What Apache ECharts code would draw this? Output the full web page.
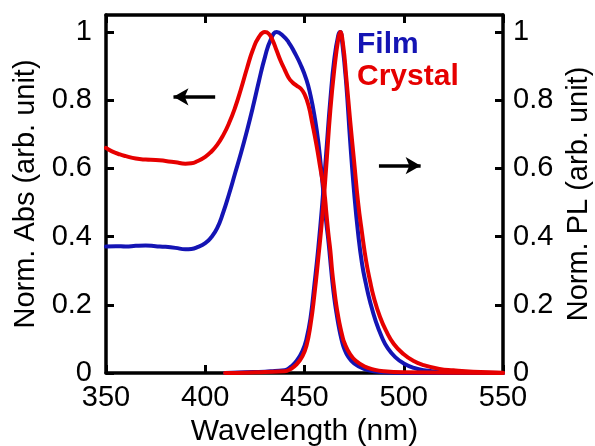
<!DOCTYPE html>
<html>
<head>
<meta charset="utf-8">
<script src="https://cdn.jsdelivr.net/npm/echarts@6/dist/echarts.min.js"></script>
<style>
html,body{margin:0;padding:0;background:#fff;}
#chart{width:595px;height:446px;}
</style>
</head>
<body>
<div id="chart"></div>
<script>
// Wavelength (nm), value pairs
const filmAbsWl  = [350,355,360,365,370,375,380,385,390,393,396,400,403,406,409,412,415,418,421,424,427,430,433,436,439,442,445,448,451,453,455,457,459,460,461,462,463,464,465,466,467,468,469,470,472,475,480,485,490,500,550];
const filmAbs    = [0.371,0.372,0.371,0.373,0.374,0.372,0.370,0.367,0.363,0.364,0.369,0.381,0.398,0.425,0.470,0.525,0.585,0.645,0.710,0.780,0.855,0.925,0.978,1.000,0.990,0.970,0.940,0.905,0.860,0.815,0.755,0.675,0.560,0.500,0.440,0.390,0.330,0.270,0.220,0.180,0.145,0.115,0.090,0.072,0.048,0.028,0.012,0.005,0.002,0.000,0.000];

const crystalAbsWl = [350,353,357,360,365,370,375,380,385,390,393,396,400,403,406,409,412,415,418,421,424,427,430,432,434,436,438,440,442,444,446,448,450,452,454,456,458,460,461,462,463,464,465,466,467,468,469,470,473,476,480,485,490,500,550];
const crystalAbs   = [0.660,0.650,0.641,0.636,0.629,0.626,0.625,0.622,0.618,0.614,0.615,0.621,0.634,0.649,0.669,0.697,0.733,0.778,0.833,0.893,0.948,0.985,1.000,0.995,0.975,0.945,0.915,0.890,0.866,0.852,0.843,0.835,0.818,0.785,0.730,0.670,0.600,0.530,0.470,0.410,0.360,0.295,0.245,0.200,0.165,0.135,0.110,0.090,0.055,0.035,0.020,0.010,0.005,0.002,0.000];

const filmPLWl = [410,420,430,435,440,443,446,449,451,453,455,457,459,461,463,465,467,468,469,471,473,475,477,479,481,483,486,489,492,496,500,505,510,520,535,550];
const filmPL   = [0.000,0.002,0.004,0.006,0.008,0.018,0.035,0.065,0.100,0.160,0.260,0.370,0.500,0.650,0.800,0.920,0.990,1.000,0.970,0.850,0.680,0.530,0.410,0.320,0.260,0.210,0.150,0.105,0.072,0.045,0.028,0.015,0.008,0.003,0.001,0.000];

const crystalPLWl = [410,420,430,440,443,446,449,451,453,455,457,459,461,463,465,467,468,469.5,471,473,475,477,479,481,483,485,488,491,495,500,505,510,518,525,535,550];
const crystalPL   = [0.000,0.001,0.003,0.005,0.012,0.025,0.050,0.080,0.140,0.230,0.340,0.460,0.610,0.770,0.890,0.980,1.000,0.960,0.870,0.740,0.620,0.500,0.410,0.330,0.270,0.220,0.165,0.125,0.085,0.055,0.035,0.023,0.012,0.008,0.004,0.001];

const xTicks = [350,400,450,500,550];
const yTicks = [0,0.2,0.4,0.6,0.8,1];

// annotation arrows (data coordinates)
const absArrow = [[405,0.81],[384,0.81]];
const plArrow  = [[487.5,0.608],[508.5,0.608]];

const BLUE = '#1414b4';
const RED  = '#e60000';
const FONT = '"Liberation Sans", Arial, sans-serif';

function zip(a,b){ return a.map((v,i)=>[v,b[i]]); }

const chart = echarts.init(document.getElementById('chart'), null, {renderer:'canvas'});

const axisLineStyle = {color:'#000', width:3.5};
const yAxisCommon = {
  type:'value', min:0, max:1.05,
  axisLine:{show:true, onZero:false, lineStyle:axisLineStyle},
  axisTick:{show:true, inside:true, length:8, lineStyle:{color:'#000', width:3}, customValues:yTicks},
  splitLine:{show:false},
  nameLocation:'middle',
  nameTextStyle:{fontFamily:FONT, fontSize:29, color:'#000'}
};

const option = {
  backgroundColor:'#fff',
  animation:false,
  grid:{left:106, right:92, top:15, bottom:73, containLabel:false, outerBoundsMode:'none'},
  legend:{
    orient:'vertical', left:347, top:25, itemGap:2,
    itemWidth:0, itemHeight:0, icon:'rect',
    selectedMode:false,
    data:[
      {name:'Film', textStyle:{color:BLUE}},
      {name:'Crystal', textStyle:{color:RED}}
    ],
    textStyle:{fontFamily:FONT, fontSize:30, fontWeight:'bold'}
  },
  xAxis:[
    {
      type:'value', min:350, max:550, interval:50, position:'bottom',
      name:'Wavelength (nm)', nameLocation:'middle', nameGap:40,
      nameTextStyle:{fontFamily:FONT, fontSize:30, color:'#000'},
      axisLine:{show:true, onZero:false, lineStyle:axisLineStyle},
      axisTick:{show:true, inside:true, length:8, lineStyle:{color:'#000', width:3}, customValues:xTicks},
      axisLabel:{show:true, margin:10, fontFamily:FONT, fontSize:29, color:'#000', showMinLabel:true, showMaxLabel:true, customValues:xTicks},
      splitLine:{show:false}
    },
    {
      type:'value', min:350, max:550, interval:50, position:'top',
      axisLine:{show:true, onZero:false, lineStyle:axisLineStyle},
      axisTick:{show:true, inside:true, length:8, lineStyle:{color:'#000', width:3}, customValues:xTicks},
      axisLabel:{show:false},
      splitLine:{show:false}
    }
  ],
  yAxis:[
    Object.assign({}, yAxisCommon, {
      position:'left', name:'Norm. Abs (arb. unit)', nameGap:63,
      axisLabel:{show:true, margin:14, fontFamily:FONT, fontSize:29, color:'#000', customValues:yTicks,
        formatter:v=>String(+(+v).toFixed(1))}
    }),
    Object.assign({}, yAxisCommon, {
      position:'right', name:'Norm. PL (arb. unit)', nameGap:58, nameRotate:90,
      axisLabel:{show:true, margin:10, fontFamily:FONT, fontSize:29, color:'#000', customValues:yTicks,
        formatter:v=>String(+(+v).toFixed(1))}
    })
  ],
  series:[
    {
      name:'Film', type:'line', xAxisIndex:0, yAxisIndex:0, data:zip(filmAbsWl, filmAbs),
      showSymbol:false, smooth:0.5, lineStyle:{color:BLUE, width:4, cap:'round', join:'round'}, itemStyle:{color:BLUE}, z:2
    },
    {
      name:'Film', type:'line', xAxisIndex:0, yAxisIndex:1, data:zip(filmPLWl, filmPL),
      showSymbol:false, smooth:0.5, lineStyle:{color:BLUE, width:4, cap:'round', join:'round'}, itemStyle:{color:BLUE}, z:2
    },
    {
      name:'Crystal', type:'line', xAxisIndex:0, yAxisIndex:0, data:zip(crystalAbsWl, crystalAbs),
      showSymbol:false, smooth:0.5, lineStyle:{color:RED, width:4, cap:'round', join:'round'}, itemStyle:{color:RED}, z:3,
      markLine:{
        silent:true, symbol:['none','arrow'], symbolSize:[13,15],
        label:{show:false},
        lineStyle:{color:'#000', width:3.5, type:'solid'},
        data:[
          [{coord:absArrow[0]},{coord:absArrow[1]}]
        ]
      }
    },
    {
      name:'Crystal', type:'line', xAxisIndex:0, yAxisIndex:1, data:zip(crystalPLWl, crystalPL),
      showSymbol:false, smooth:0.5, lineStyle:{color:RED, width:4, cap:'round', join:'round'}, itemStyle:{color:RED}, z:3,
      markLine:{
        silent:true, symbol:['none','arrow'], symbolSize:[13,15],
        label:{show:false},
        lineStyle:{color:'#000', width:3.5, type:'solid'},
        data:[
          [{coord:plArrow[0]},{coord:plArrow[1]}]
        ]
      }
    }
  ]
};
chart.setOption(option);
</script>
</body>
</html>
